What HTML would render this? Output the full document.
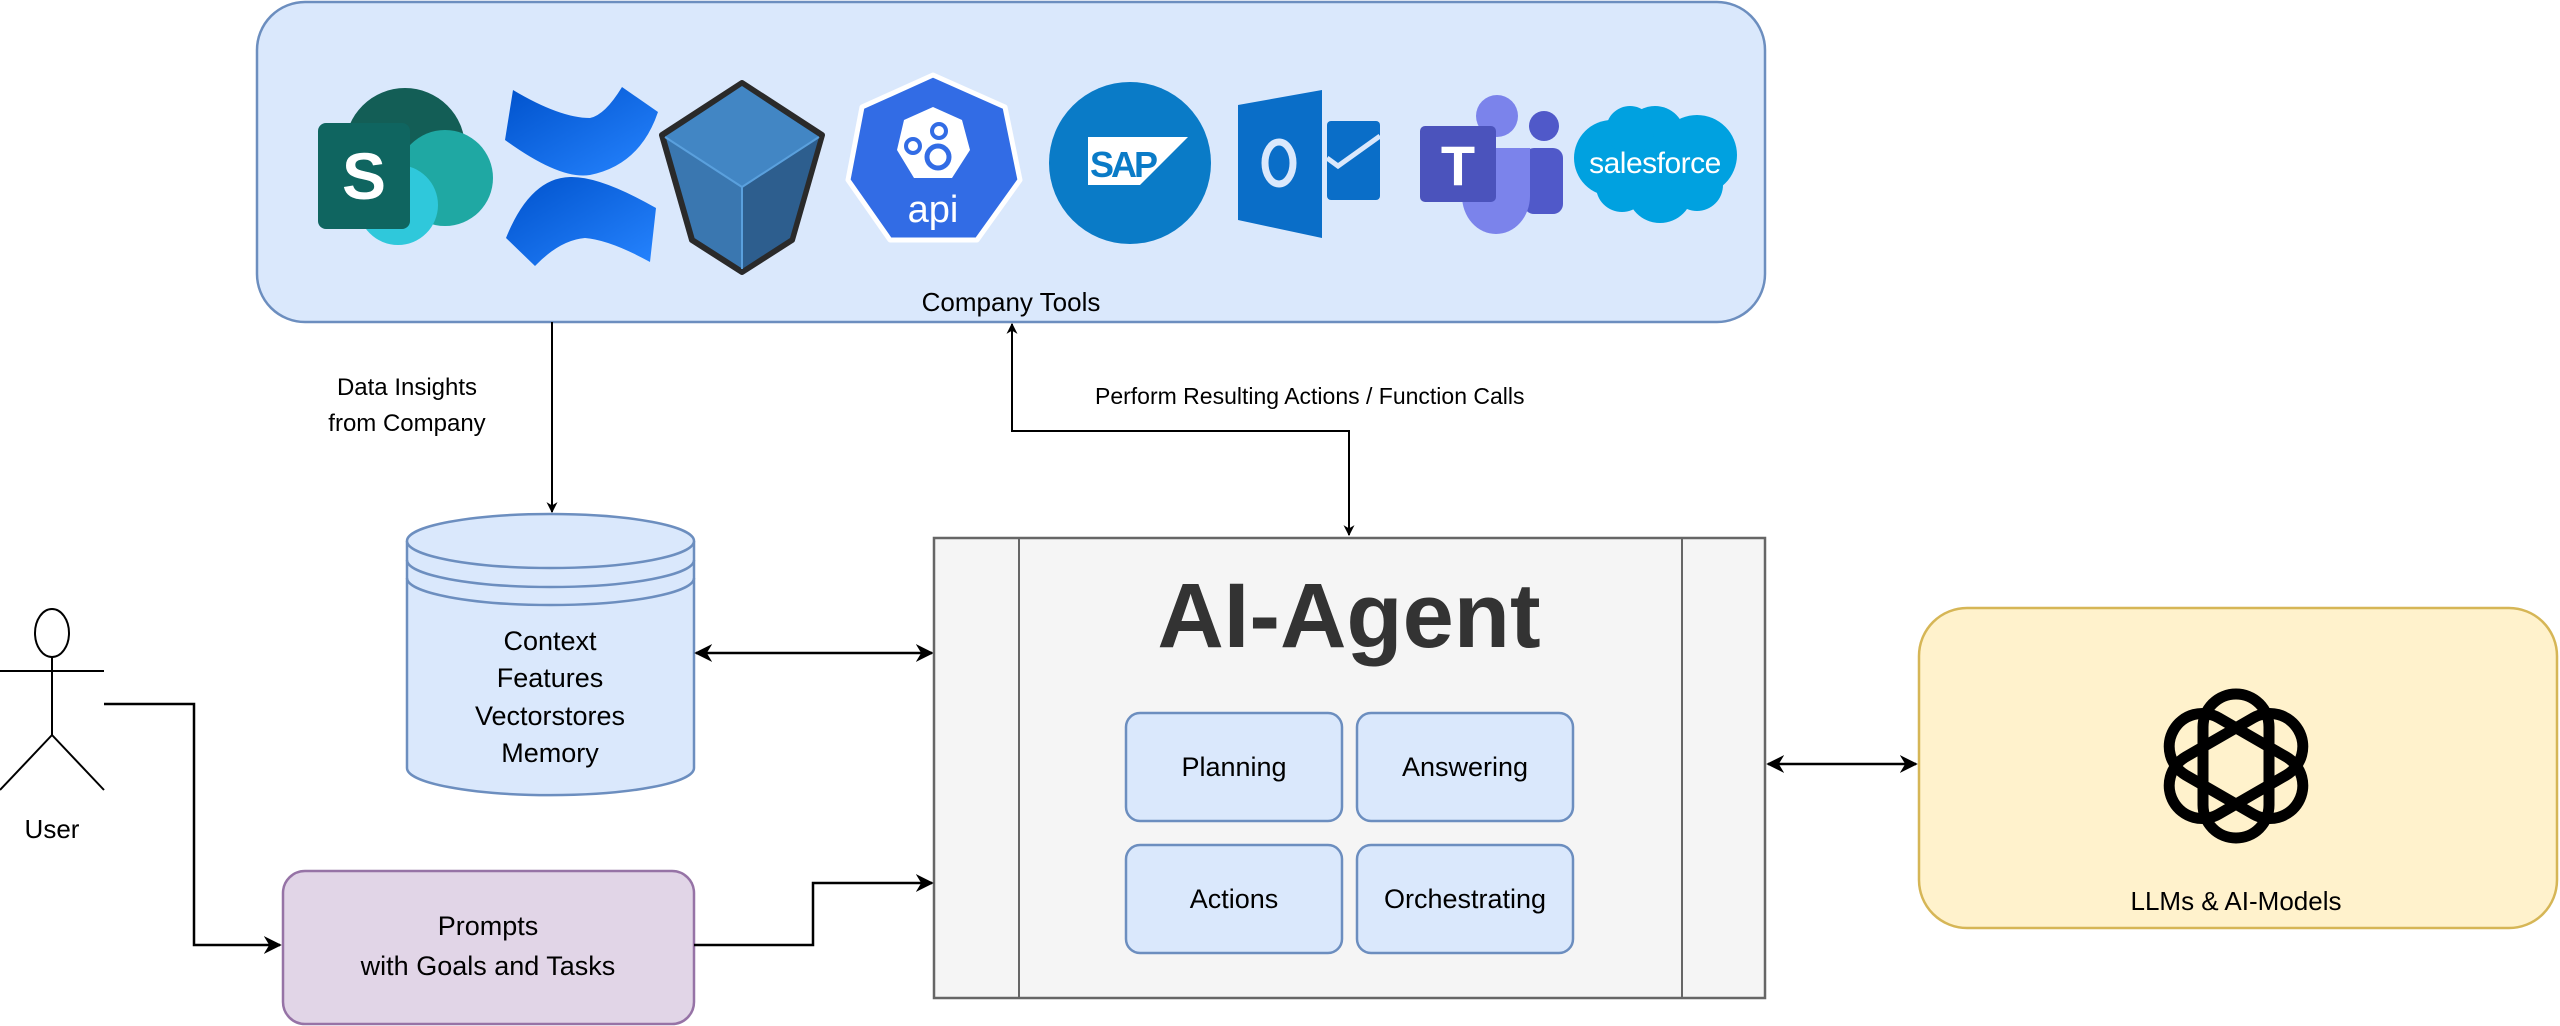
<!DOCTYPE html>
<html><head><meta charset="utf-8"><style>
html,body{margin:0;padding:0;background:#fff;width:2560px;height:1026px;overflow:hidden}
text{font-family:"Liberation Sans",Arial,sans-serif}
</style></head><body>
<svg width="2560" height="1026" viewBox="0 0 2560 1026" xmlns="http://www.w3.org/2000/svg">
<defs>
<marker id="ah" viewBox="0 0 10 10" refX="9" refY="5" markerWidth="11" markerHeight="11" markerUnits="userSpaceOnUse" orient="auto-start-reverse">
<path d="M0,0 L10,5 L0,10 L3,5 Z" fill="#000"/></marker>
<marker id="ahb" viewBox="0 0 10 10" refX="9" refY="5" markerWidth="18" markerHeight="18" markerUnits="userSpaceOnUse" orient="auto-start-reverse">
<path d="M0,0 L10,5 L0,10 L3,5 Z" fill="#000"/></marker>
<linearGradient id="conf" x1="0" y1="0" x2="1" y2="1"><stop offset="0" stop-color="#0052cc"/><stop offset="1" stop-color="#2684ff"/></linearGradient>
</defs>

<rect x="257" y="2" width="1508" height="320" rx="48" fill="#dae8fc" stroke="#6c8ebf" stroke-width="2.5"/>
<text x="1011" y="311" font-size="26" text-anchor="middle">Company Tools</text>

<circle cx="405" cy="148" r="60" fill="#135e56"/>
<circle cx="445" cy="178" r="48" fill="#1fa8a3"/>
<circle cx="398" cy="205" r="40" fill="#2fc8db"/>
<rect x="318" y="123" width="92" height="106" rx="8" fill="#0f6560"/>
<text x="364" y="199" font-size="66" font-weight="bold" fill="#fff" text-anchor="middle">S</text>

<path d="M513,90 Q560,118 590,118 Q605,115 622,87 L658,112 Q640,165 590,175 Q560,180 505,140 Z" fill="url(#conf)"/>
<path d="M506,238 Q530,178 570,177 Q600,176 656,208 L650,262 Q610,240 585,238 Q560,240 535,266 Z" fill="url(#conf)"/>

<polygon points="742,83 822,135 792,240 742,272 692,240 662,135" fill="#3a77b0" stroke="#2a2a2a" stroke-width="6" stroke-linejoin="round"/>
<polygon points="742,86 819,137 742,187 665,137" fill="#4286c4"/>
<polygon points="742,187 819,137 790,238 742,269" fill="#2d5e8e"/>
<path d="M665,137 L742,187 L819,137 M742,187 L742,269" stroke="#5aa0dd" stroke-width="2" fill="none"/>

<polygon points="933,75 1005,107 1020,180 977,240 890,240 848,180 862,107" fill="#326ce5" stroke="#fff" stroke-width="5" stroke-linejoin="round"/>
<polygon points="933,107 962,120 970,150 952,178 914,178 897,150 904,120" fill="#fff"/>
<circle cx="913" cy="146" r="7" fill="none" stroke="#326ce5" stroke-width="4"/>
<circle cx="938" cy="157" r="11" fill="none" stroke="#326ce5" stroke-width="5"/>
<circle cx="939" cy="131" r="7" fill="none" stroke="#326ce5" stroke-width="4"/>
<text x="933" y="222" font-size="38" fill="#fff" text-anchor="middle">api</text>

<circle cx="1130" cy="163" r="81" fill="#0a7bc7"/>
<polygon points="1088,137 1188,137 1140,185 1088,185" fill="#fff"/>
<text x="1090" y="177" font-size="36" font-weight="bold" fill="#0a7bc7" letter-spacing="-3">SAP</text>

<rect x="1327" y="121" width="53" height="79" rx="4" fill="#0a6ec8"/>
<path d="M1327,158 L1338,166 L1380,136" stroke="#dae8fc" stroke-width="5" fill="none"/>
<polygon points="1238,105 1322,90 1322,238 1238,220" fill="#0a6ec8"/>
<ellipse cx="1279" cy="163" rx="14" ry="21" fill="none" stroke="#dae8fc" stroke-width="7"/>

<circle cx="1497" cy="116" r="21" fill="#7b83eb"/>
<circle cx="1544" cy="126" r="15" fill="#5059c9"/>
<rect x="1524" y="148" width="39" height="66" rx="10" fill="#5059c9"/>
<path d="M1462,148 L1530,148 L1530,196 A34,38 0 0 1 1462,196 Z" fill="#7b83eb"/>
<rect x="1420" y="126" width="76" height="76" rx="5" fill="#4b53bc"/>
<text x="1458" y="185" font-size="56" font-weight="bold" fill="#fff" text-anchor="middle">T</text>

<g fill="#00a1e0">
<circle cx="1612" cy="158" r="38"/><circle cx="1655" cy="136" r="30"/><circle cx="1697" cy="155" r="40"/>
<circle cx="1660" cy="190" r="33"/><circle cx="1622" cy="186" r="26"/><circle cx="1697" cy="185" r="26"/>
<circle cx="1630" cy="130" r="24"/>
</g>
<text x="1655" y="173" font-size="30" fill="#fff" text-anchor="middle" letter-spacing="-0.5">salesforce</text>

<line x1="552" y1="322" x2="552" y2="512" stroke="#000" stroke-width="2" marker-end="url(#ah)"/>
<text x="407" y="395" font-size="24" text-anchor="middle">Data Insights</text>
<text x="407" y="431" font-size="24" text-anchor="middle">from Company</text>
<polyline points="1349,535 1349,431 1012,431 1012,324" fill="none" stroke="#000" stroke-width="2" marker-start="url(#ah)" marker-end="url(#ah)"/>
<text x="1095" y="404" font-size="23">Perform Resulting Actions / Function Calls</text>

<path d="M407,541 L407,768 A143,27 0 0 0 694,768 L694,541" fill="#dae8fc" stroke="#6c8ebf" stroke-width="2.5"/>
<ellipse cx="550.5" cy="541" rx="143.5" ry="27" fill="#dae8fc" stroke="#6c8ebf" stroke-width="2.5"/>
<path d="M407,560 A143.5,27 0 0 0 694,560 M407,578 A143.5,27 0 0 0 694,578" fill="none" stroke="#6c8ebf" stroke-width="2.5"/>
<g font-size="27" text-anchor="middle">
<text x="550" y="650">Context</text><text x="550" y="687">Features</text><text x="550" y="725">Vectorstores</text><text x="550" y="762">Memory</text>
</g>
<line x1="696" y1="653" x2="932" y2="653" stroke="#000" stroke-width="2.5" marker-start="url(#ahb)" marker-end="url(#ahb)"/>

<rect x="934" y="538" width="831" height="460" fill="#f5f5f5" stroke="#666" stroke-width="2.5"/>
<line x1="1019" y1="538" x2="1019" y2="998" stroke="#666" stroke-width="2"/>
<line x1="1682" y1="538" x2="1682" y2="998" stroke="#666" stroke-width="2"/>
<text x="1349" y="647" font-size="92" font-weight="bold" fill="#333" text-anchor="middle">AI-Agent</text>
<g fill="#dae8fc" stroke="#6c8ebf" stroke-width="2.5">
<rect x="1126" y="713" width="216" height="108" rx="14"/><rect x="1357" y="713" width="216" height="108" rx="14"/>
<rect x="1126" y="845" width="216" height="108" rx="14"/><rect x="1357" y="845" width="216" height="108" rx="14"/>
</g>
<g font-size="27" text-anchor="middle">
<text x="1234" y="776">Planning</text><text x="1465" y="776">Answering</text>
<text x="1234" y="908">Actions</text><text x="1465" y="908">Orchestrating</text>
</g>

<line x1="1768" y1="764" x2="1916" y2="764" stroke="#000" stroke-width="2.5" marker-start="url(#ahb)" marker-end="url(#ahb)"/>
<rect x="1919" y="608" width="638" height="320" rx="48" fill="#fff2cc" stroke="#d6b656" stroke-width="2.5"/>
<g transform="translate(2236,766)" fill="none" stroke="#000" stroke-width="11">
<rect x="-33" y="-72" width="66" height="144" rx="33" transform="rotate(0)"/>
<rect x="-33" y="-72" width="66" height="144" rx="33" transform="rotate(60)"/>
<rect x="-33" y="-72" width="66" height="144" rx="33" transform="rotate(120)"/>
</g>
<text x="2236" y="910" font-size="26" text-anchor="middle">LLMs &amp; AI-Models</text>

<g stroke="#000" stroke-width="2" fill="none">
<ellipse cx="52" cy="633" rx="17" ry="24"/>
<line x1="52" y1="657" x2="52" y2="735"/>
<line x1="0" y1="671" x2="104" y2="671"/>
<line x1="52" y1="735" x2="0" y2="790"/><line x1="52" y1="735" x2="104" y2="790"/>
</g>
<text x="52" y="838" font-size="26" text-anchor="middle">User</text>
<polyline points="104,704 194,704 194,945 280,945" fill="none" stroke="#000" stroke-width="2.5" marker-end="url(#ahb)"/>

<rect x="283" y="871" width="411" height="153" rx="22" fill="#e1d5e7" stroke="#9673a6" stroke-width="2.5"/>
<text x="488" y="935" font-size="27" text-anchor="middle">Prompts</text>
<text x="488" y="975" font-size="27" text-anchor="middle">with Goals and Tasks</text>
<polyline points="694,945 813,945 813,883 932,883" fill="none" stroke="#000" stroke-width="2.5" marker-end="url(#ahb)"/>
</svg>
</body></html>
